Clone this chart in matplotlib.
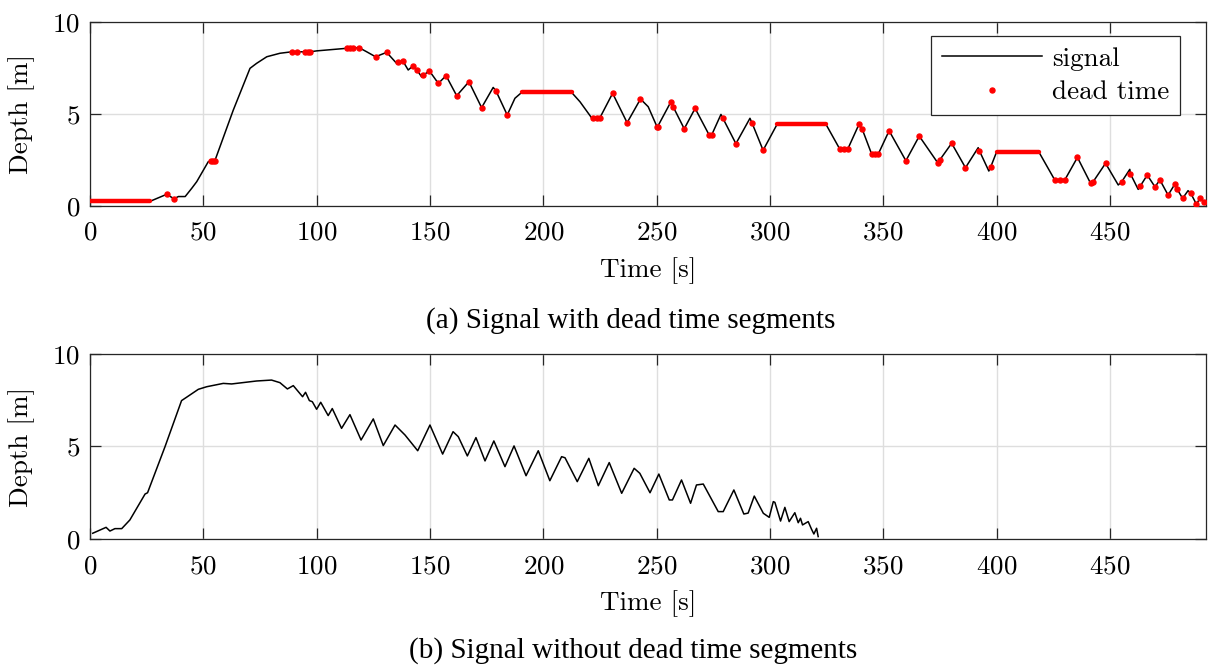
import numpy as np
import matplotlib
matplotlib.use("Agg")
import matplotlib.pyplot as plt

plt.rcParams["font.family"] = ["cmr10", "DejaVu Serif"]
plt.rcParams["mathtext.fontset"] = "cm"
plt.rcParams["axes.unicode_minus"] = False
plt.rcParams["axes.formatter.use_mathtext"] = True

# full signal (with dead time)
t_full = [0, 26.5, 33.8, 37.1, 39.0, 42.0, 44.9, 47.1, 52.2, 53.4, 55.1, 63.2, 70.6,
          73.5, 78.0, 83.8, 89.0, 97.1, 100, 113.2, 118.8, 122.1, 126.0, 130.9, 135.3,
          138.0, 140.4, 142.6, 144.1, 146.3, 149.7, 153.7, 157.1, 161.8, 167.2, 172.8,
          177.9, 179.1, 184.1, 187.5, 190.5, 212.5, 216.2, 221.3, 225.0, 230.6, 237.0,
          242.9, 246.3, 250.3, 256.2, 257.3, 262.2, 267.0, 273.2, 274.3, 278.4, 279.1,
          285.0, 291.2, 292.2, 297.0, 303.2, 324.7, 330.9, 334.3, 339.3, 340.7, 344.9,
          347.8, 352.6, 360.0, 365.9, 374.2, 375.0, 380.2, 386.3, 391.9, 392.4, 396.6,
          397.4, 400.0, 418.7, 425.7, 430.1, 435.7, 441.5, 442.6, 448.1, 453.7, 455.2,
          458.8, 459.1, 462.5, 466.5, 469.9, 472.1, 475.7, 478.7, 479.7, 482.1, 484.5,
          485.6, 488.2, 489.7, 491.5]
d_full = [0.24, 0.24, 0.62, 0.38, 0.5, 0.5, 0.95, 1.31, 2.4, 2.42, 2.45, 5.2, 7.48,
          7.75, 8.11, 8.3, 8.38, 8.38, 8.43, 8.57, 8.6, 8.38, 8.11, 8.35, 7.75,
          7.89, 7.39, 7.62, 7.41, 7.02, 7.35, 6.66, 7.08, 5.99, 6.75, 5.34,
          6.44, 6.26, 4.94, 5.85, 6.17, 6.17, 5.66, 4.79, 4.79, 6.12, 4.52,
          5.81, 5.39, 4.27, 5.63, 5.39, 4.19, 5.3, 3.85, 3.85, 4.97, 4.8,
          3.38, 4.76, 4.48, 3.02, 4.44, 4.44, 3.07, 3.07, 4.43, 4.18, 2.81,
          2.81, 4.08, 2.45, 3.79, 2.31, 2.5, 3.4, 2.07, 3.16, 3.0, 1.89,
          2.1, 2.92, 2.92, 1.4, 1.4, 2.63, 1.22, 1.3, 2.31, 1.13, 1.3,
          1.98, 1.73, 0.89, 1.67, 1.03, 1.4, 0.58, 1.18, 0.9, 0.4, 0.82,
          0.7, 0.08, 0.4, 0.22]

# long dead time segments: start, end, depth
seg_start = [0, 190.5, 303.2, 400.0]
seg_end = [26.5, 212.5, 324.7, 418.7]
seg_depth = [0.24, 6.17, 4.44, 2.92]

# single dead time samples
t_dead = [33.8, 37.1, 53.4, 54.3, 55.1, 89.0, 91.2, 94.9, 96.0, 97.1, 113.2, 114.7,
          115.9, 118.8, 126.0, 130.9, 136.0, 138.0, 142.6, 144.1, 147.0, 149.7, 153.7,
          157.1, 161.8, 167.2, 172.8, 179.1, 184.1, 222.0, 223.5, 225.0, 230.6, 237.0,
          242.9, 250.3, 250.8, 256.2, 257.3, 262.2, 267.0, 273.2, 274.3, 279.1, 285.0,
          292.2, 297.0, 330.9, 332.6, 334.3, 339.3, 340.7, 344.9, 346.4, 347.8, 352.6,
          360.0, 365.9, 374.2, 375.0, 380.2, 386.3, 392.4, 397.4, 425.7, 427.9, 430.1,
          435.7, 441.5, 442.6, 448.1, 455.2, 459.1, 463.2, 466.5, 469.9, 472.1, 475.7,
          478.7, 479.7, 482.1, 485.6, 488.2, 489.7, 491.5]
d_dead = [0.62, 0.38, 2.42, 2.43, 2.45, 8.38, 8.38, 8.38, 8.38, 8.38, 8.57, 8.58,
          8.58, 8.6, 8.11, 8.35, 7.84, 7.89, 7.62, 7.41, 7.1, 7.35, 6.66,
          7.08, 5.99, 6.75, 5.34, 6.26, 4.94, 4.79, 4.79, 4.79, 6.12, 4.52,
          5.81, 4.27, 4.27, 5.63, 5.39, 4.19, 5.3, 3.85, 3.85, 4.8, 3.38,
          4.48, 3.02, 3.07, 3.07, 3.07, 4.43, 4.18, 2.81, 2.81, 2.81, 4.08,
          2.45, 3.79, 2.31, 2.5, 3.4, 2.07, 3.0, 2.1, 1.4, 1.4, 1.4,
          2.63, 1.22, 1.3, 2.31, 1.3, 1.73, 1.1, 1.67, 1.03, 1.4, 0.58,
          1.18, 0.9, 0.4, 0.7, 0.08, 0.4, 0.22]

# signal after removing dead time
t_cut = [1.2, 7.1, 8.8, 11.0, 14.0, 17.6, 24.3, 25.4, 33.1, 40.4, 42.6, 47.8, 51.5,
         58.8, 62.5, 73.5, 80.1, 83.8, 87.1, 89.7, 93.8, 95.1, 96.8, 98.1, 100, 101.8,
         105.1, 106.9, 111.0, 114.7, 119.6, 125.0, 129.4, 134.6, 139.0, 144.6, 150.0,
         155.6, 160.2, 162.5, 166.5, 170.3, 174.3, 178.2, 183.1, 187.1, 192.4, 197.8,
         202.9, 208.1, 209.6, 215.0, 220.1, 224.3, 229.1, 234.6, 240.1, 242.6, 247.1,
         251.0, 255.6, 257.0, 261.0, 265.0, 267.6, 270.6, 277.2, 279.4, 284.1, 288.5,
         290.4, 293.1, 297.1, 299.7, 301.5, 302.2, 304.7, 306.6, 308.5, 311.0, 312.5,
         313.5, 314.4, 316.9, 318.4, 319.4, 320.6, 321.3]
d_cut = [0.31, 0.63, 0.43, 0.56, 0.56, 1.03, 2.43, 2.5, 4.99, 7.48, 7.66, 8.09, 8.23,
         8.41, 8.38, 8.54, 8.59, 8.45, 8.11, 8.29, 7.69, 7.93, 7.48, 7.42, 7.01, 7.39,
         6.67, 7.05, 5.98, 6.72, 5.35, 6.49, 5.05, 6.16, 5.62, 4.77, 6.16,
         4.59, 5.8, 5.53, 4.49, 5.48, 4.22, 5.3, 3.91, 5.03, 3.42, 4.77,
         3.15, 4.45, 4.39, 3.1, 4.36, 2.88, 4.13, 2.47, 3.82, 3.55, 2.5,
         3.51, 2.11, 2.11, 3.19, 1.93, 2.92, 2.97, 1.48, 1.48, 2.65, 1.35,
         1.4, 2.32, 1.39, 1.17, 2.02, 1.98, 0.97, 1.71, 0.94, 1.42, 0.88,
         1.12, 0.76, 0.94, 0.52, 0.27, 0.58, 0.13]

xticks = [0, 50, 100, 150, 200, 250, 300, 350, 400, 450]
yticks = [0, 5, 10]

FS = 19.5
fig = plt.figure(figsize=(12.08, 6.66), dpi=100)
ax1 = fig.add_axes([0.0745, 0.6911, 0.9238, 0.2758])
ax2 = fig.add_axes([0.0745, 0.1907, 0.9238, 0.2778])

for ax in (ax1, ax2):
    ax.set_xlim(0, 492.4)
    ax.set_ylim(0, 10)
    ax.set_xticks(xticks)
    ax.set_yticks(yticks)
    ax.grid(True, color="#dedede", lw=1.0)
    ax.set_axisbelow(True)
    ax.tick_params(direction="in", top=True, right=True, length=8, width=0.9,
                   color="#262626", labelsize=FS)
    ax.tick_params(axis="x", pad=11)
    ax.tick_params(axis="y", pad=7)
    for s in ax.spines.values():
        s.set_color("#262626")
        s.set_linewidth(0.9)
    ax.set_xlabel("Time [s]", fontsize=FS, labelpad=9)
    ax.set_ylabel("Depth [m]", fontsize=FS)
    ax.yaxis.set_label_coords(-0.049, 0.5)

ax1.plot(t_full, d_full, color="black", lw=1.1, label="signal", zorder=3)
for a, b, d in zip(seg_start, seg_end, seg_depth):
    ax1.plot([a, b], [d, d], color="red", lw=3.2, solid_capstyle="round", zorder=4)
ax1.plot(t_dead, d_dead, ls="none", marker="o", ms=3.6, color="red",
         label="dead time", zorder=4)
leg = ax1.legend(loc="upper right", bbox_to_anchor=(0.9767, 0.9238), borderaxespad=0,
                 fontsize=FS, handlelength=3.7, handletextpad=0.35, fancybox=False,
                 framealpha=1, edgecolor="#262626", borderpad=0.4, labelspacing=0.35)
leg.get_frame().set_linewidth(0.9)

ax2.plot(t_cut, d_cut, color="black", lw=1.1)

fig.text(0.5224, 1 - 321 / 666, "(a) Signal with dead time segments",
         family="Liberation Serif", fontsize=21, ha="center", va="center")
fig.text(0.5240, 1 - 651 / 666, "(b) Signal without dead time segments",
         family="Liberation Serif", fontsize=21, ha="center", va="center")

fig.savefig("out.png", dpi=100)
